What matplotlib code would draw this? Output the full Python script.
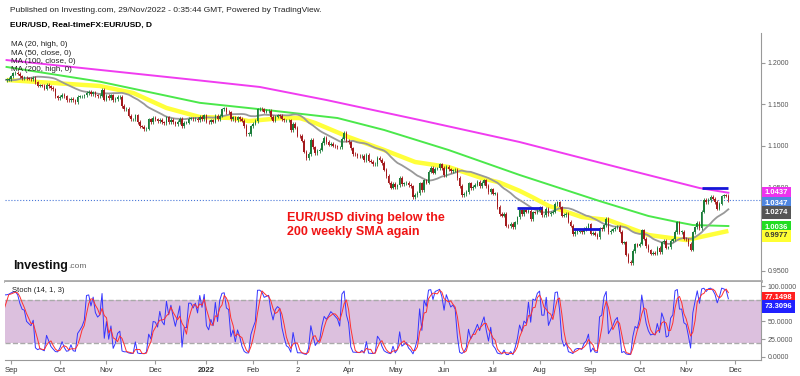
import numpy as np
import pandas as pd
import matplotlib.pyplot as plt

plt.rcParams['font.family'] = ['Liberation Sans', 'DejaVu Sans']

# EUR/USD daily closes, one list per month (weekdays only)
aug21 = [1.1870, 1.1868, 1.1835, 1.1833, 1.1760, 1.1735, 1.1720, 1.1740, 1.1730, 1.1795,
         1.1778, 1.1712, 1.1713, 1.1675, 1.1700, 1.1745, 1.1755, 1.1770, 1.1750, 1.1795,
         1.1797, 1.1808]
sep21 = [1.1840, 1.1875, 1.1880, 1.1870, 1.1840, 1.1820, 1.1825, 1.1813, 1.1810, 1.1805,
         1.1818, 1.1765, 1.1725, 1.1728, 1.1725, 1.1690, 1.1740, 1.1720, 1.1698, 1.1683,
         1.1600, 1.1580]
oct21 = [1.1595, 1.1620, 1.1597, 1.1555, 1.1553, 1.1572, 1.1552, 1.1530, 1.1593, 1.1597,
         1.1600, 1.1610, 1.1640, 1.1650, 1.1625, 1.1645, 1.1610, 1.1600, 1.1605, 1.1680,
         1.1560]
nov21 = [1.1605, 1.1580, 1.1610, 1.1555, 1.1567, 1.1590, 1.1595, 1.1480, 1.1445, 1.1445,
         1.1367, 1.1320, 1.1320, 1.1370, 1.1290, 1.1237, 1.1234, 1.1200, 1.1210, 1.1320,
         1.1290, 1.1340]
dec21 = [1.1320, 1.1300, 1.1315, 1.1285, 1.1275, 1.1345, 1.1290, 1.1315, 1.1285, 1.1260,
         1.1290, 1.1330, 1.1240, 1.1280, 1.1280, 1.1330, 1.1330, 1.1320, 1.1330, 1.1310,
         1.1350, 1.1325, 1.1370]
jan22 = [1.1295, 1.1285, 1.1310, 1.1295, 1.1360, 1.1325, 1.1365, 1.1440, 1.1455, 1.1410,
         1.1405, 1.1325, 1.1345, 1.1310, 1.1345, 1.1325, 1.1305, 1.1240, 1.1145, 1.1145,
         1.1235]
feb22 = [1.1270, 1.1300, 1.1440, 1.1450, 1.1440, 1.1415, 1.1420, 1.1425, 1.1350, 1.1305,
         1.1355, 1.1370, 1.1360, 1.1320, 1.1310, 1.1310, 1.1310, 1.1190, 1.1270, 1.1220]
mar22 = [1.1125, 1.1120, 1.1065, 1.0930, 1.0855, 1.0905, 1.1075, 1.0985, 1.0915, 1.0940,
         1.0955, 1.1035, 1.1095, 1.1050, 1.1015, 1.1030, 1.1005, 1.0995, 1.0985, 1.0985,
         1.1090, 1.1160, 1.1065]
apr22 = [1.1045, 1.0970, 1.0905, 1.0900, 1.0880, 1.0875, 1.0885, 1.0830, 1.0890, 1.0825,
         1.0810, 1.0780, 1.0785, 1.0855, 1.0835, 1.0795, 1.0715, 1.0640, 1.0560, 1.0500,
         1.0545]
may22 = [1.0505, 1.0525, 1.0620, 1.0540, 1.0550, 1.0560, 1.0530, 1.0515, 1.0380, 1.0410,
         1.0435, 1.0550, 1.0465, 1.0585, 1.0560, 1.0690, 1.0735, 1.0680, 1.0725, 1.0730,
         1.0780, 1.0735]
jun22 = [1.0650, 1.0750, 1.0720, 1.0695, 1.0705, 1.0715, 1.0615, 1.0520, 1.0410, 1.0420,
         1.0445, 1.0550, 1.0495, 1.0510, 1.0535, 1.0565, 1.0520, 1.0555, 1.0585, 1.0520,
         1.0445, 1.0480]
jul22 = [1.0425, 1.0425, 1.0265, 1.0180, 1.0160, 1.0185, 1.0040, 1.0035, 1.0060, 1.0020,
         1.0080, 1.0140, 1.0225, 1.0180, 1.0225, 1.0210, 1.0220, 1.0120, 1.0200, 1.0195,
         1.0220]
aug22 = [1.0260, 1.0165, 1.0165, 1.0245, 1.0180, 1.0195, 1.0210, 1.0300, 1.0320, 1.0260,
         1.0160, 1.0170, 1.0180, 1.0090, 1.0040, 0.9940, 0.9965, 0.9970, 0.9970, 0.9965,
         1.0000, 1.0015, 1.0055]
sep22 = [0.9945, 0.9955, 0.9930, 0.9900, 1.0010, 0.9995, 1.0045, 1.0120, 0.9965, 0.9980,
         0.9995, 1.0015, 1.0025, 0.9970, 0.9835, 0.9840, 0.9690, 0.9605, 0.9590, 0.9735,
         0.9815, 0.9800]
oct22 = [0.9825, 0.9985, 0.9885, 0.9795, 0.9745, 0.9705, 0.9710, 0.9705, 0.9775, 0.9720,
         0.9840, 0.9855, 0.9775, 0.9780, 0.9860, 0.9875, 0.9965, 1.0080, 0.9965, 0.9965,
         0.9885]
nov22 = [0.9875, 0.9820, 0.9750, 0.9960, 1.0020, 1.0075, 1.0010, 1.0210, 1.0355, 1.0325,
         1.0350, 1.0385, 1.0365, 1.0325, 1.0245, 1.0305, 1.0395, 1.0405, 1.0400, 1.0347]

# longer moving averages
ma50_dates = ['2021-08-30', '2021-10-27', '2021-11-17', '2021-12-08', '2021-12-29', '2022-01-19',
              '2022-01-28', '2022-02-18', '2022-03-02', '2022-03-11', '2022-04-01', '2022-04-25',
              '2022-05-13', '2022-06-03', '2022-06-24', '2022-07-06', '2022-07-19', '2022-07-27',
              '2022-08-05', '2022-08-26', '2022-09-13', '2022-10-07', '2022-11-01', '2022-11-28']
ma50_vals = [1.1795, 1.1723, 1.1639, 1.1458, 1.1349, 1.1337, 1.1300, 1.1337, 1.1337, 1.1277,
             1.1108, 1.0952, 1.0807, 1.0747, 1.0614, 1.0560, 1.0460, 1.0380, 1.0280, 1.0145,
             1.0108, 0.9928, 0.9867, 0.9977]
ma100_dates = ['2021-08-30', '2021-10-27', '2021-12-29', '2022-02-03', '2022-03-25', '2022-04-25',
               '2022-06-03', '2022-07-19', '2022-09-07', '2022-10-07', '2022-10-26', '2022-11-04',
               '2022-11-28']
ma100_vals = [1.1952, 1.1775, 1.1520, 1.1446, 1.1337, 1.1193, 1.0952, 1.0651, 1.0337, 1.0157,
              1.0084, 1.0048, 1.0036]
ma200_dates = ['2021-08-30', '2021-12-27', '2022-02-04', '2022-03-18', '2022-05-17', '2022-07-19',
               '2022-09-26', '2022-11-09', '2022-11-28']
ma200_vals = [1.2035, 1.1795, 1.1711, 1.1554, 1.1313, 1.1048, 1.0711, 1.0494, 1.0437]

# drawn resistance levels
res_levels = [1.0255, 1.0000, 1.0500]
res_from = ['2022-07-18', '2022-08-22', '2022-11-10']
res_to = ['2022-08-02', '2022-09-07', '2022-11-28']

# values in the right-hand tags
price_tags = [1.0437, 1.0347, 1.0274, 1.0036, 0.9977]
stoch_tags = [77.1498, 73.3096]

month_labels = ['Sep', 'Oct', 'Nov', 'Dec', '2022', 'Feb', '2', 'Apr', 'May', 'Jun',
                'Jul', 'Aug', 'Sep', 'Oct', 'Nov', 'Dec']

closes = np.array(aug21 + sep21 + oct21 + nov21 + dec21 + jan22 + feb22 + mar22 + apr22
                  + may22 + jun22 + jul22 + aug22 + sep22 + oct22 + nov22)
days = pd.bdate_range('2021-08-02', '2022-12-30')
n = len(closes)
start = days.get_loc(pd.Timestamp('2021-08-30'))


def pos(d):
    return days.get_indexer(pd.DatetimeIndex(np.atleast_1d(pd.to_datetime(d)))) - start


x = np.arange(n) - start
opens = np.r_[closes[0], closes[:-1]]
wick = 0.002
highs = np.maximum(opens, closes) + wick
lows = np.minimum(opens, closes) - wick

ma20 = pd.Series(highs).rolling(20).mean()
hh = pd.Series(highs).rolling(14).max()
ll = pd.Series(lows).rolling(14).min()
k = 100 * (closes - ll) / (hh - ll)
d = k.rolling(3).mean()

fig = plt.figure(figsize=(8, 3.76), dpi=100)
W, H = 800, 376
ax = fig.add_axes([5 / W, 1 - 281 / H, 756 / W, 248 / H])
ax2 = fig.add_axes([5 / W, 1 - 360 / H, 756 / W, 78 / H])
xl = (-0.7, 339.7)

# candles
up = closes >= opens
for m, col in [(up, '#1b7d3a'), (~up, '#a3191c')]:
    ax.vlines(x[m], lows[m], highs[m], color=col, lw=0.6, zorder=3)
    ax.bar(x[m], np.maximum(np.abs(closes - opens)[m], 0.0006), bottom=np.minimum(opens, closes)[m],
           width=0.7, color=col, zorder=3)

ax.plot(pos(ma200_dates), ma200_vals, color='#f03cf0', lw=1.4, zorder=2)
ax.plot(pos(ma100_dates), ma100_vals, color='#4be84b', lw=1.4, zorder=2)
ax.plot(pos(ma50_dates), ma50_vals, color='#ffff3a', lw=3.2, zorder=2, solid_capstyle='butt')
ax.plot(x, ma20, color='#999999', lw=1.3, zorder=2)
ax.axhline(closes[-1], color='#4a78d8', ls=':', lw=0.8, zorder=1)
for lv, a, b in zip(res_levels, res_from, res_to):
    ax.plot(np.r_[pos(a), pos(b)], [lv, lv], color='#1515d8', lw=2, zorder=4, solid_capstyle='butt')

ax.set_xlim(*xl)
ax.set_ylim(0.9374, 1.2361)
ax.set_xticks([])
for s in ['top', 'left']:
    ax.spines[s].set_visible(False)
ax.spines['right'].set_color('#999999')
ax.spines['bottom'].set_color('#aaaaaa')
ax.spines['bottom'].set_linewidth(2)
ax.yaxis.tick_right()
pticks = [0.95, 1.0, 1.05, 1.1, 1.15, 1.2]
ax.set_yticks(pticks)
# 1.0000 sits fully under the green tag
ax.set_yticklabels(['' if v == 1.0 else '%.4f' % v for v in pticks])
ax.tick_params(axis='y', length=3, color='#999999', labelsize=5, labelcolor='#555555', pad=2)

# right side tags
tag_cols = [('#ee33ee', 'white'), ('#4f86e0', 'white'), ('#555555', 'white'),
            ('#22dd22', 'white'), ('#ffff33', '#333333')]
tag_nudge = [0.0, -0.0035, -0.0075, -0.0012, -0.006]
trans = ax.get_yaxis_transform()
for v, (fc, tc), dy in zip(price_tags, tag_cols, tag_nudge):
    ax.text(1.005, v + dy, '%.4f' % v, transform=trans, fontsize=5.5, weight='bold', color=tc,
            va='center', ha='left', clip_on=False, zorder=6,
            bbox=dict(boxstyle='square,pad=0.35', fc=fc, ec='none'))

# stochastic
ax2.axhspan(20, 80, color='#dcc0de', lw=0, zorder=0)
ax2.axhline(20, color='#aaaaaa', ls='--', lw=1, zorder=1)
ax2.axhline(80, color='#aaaaaa', ls='--', lw=1, zorder=1)
ax2.plot(x, k, color='#3535ff', lw=0.7, zorder=2)
ax2.plot(x, d, color='#ff3030', lw=0.7, zorder=3)
ax2.set_xlim(*xl)
ax2.set_ylim(-4.3, 105.7)
for s in ['top', 'left']:
    ax2.spines[s].set_visible(False)
ax2.spines['right'].set_color('#999999')
ax2.spines['bottom'].set_color('#999999')
ax2.yaxis.tick_right()
sticks = [0, 25, 50, 75, 100]
ax2.set_yticks(sticks)
# 75 is hidden by the two tags
ax2.set_yticklabels(['' if v == 75 else '%.4f' % v for v in sticks])
ax2.tick_params(axis='y', length=3, color='#999999', labelsize=5, labelcolor='#555555', pad=2)
months = pd.date_range('2021-09-01', '2022-12-01', freq='BMS')
ax2.set_xticks(pos(months))
ax2.set_xticklabels(month_labels)
ax2.tick_params(axis='x', length=3, color='#999999', labelsize=5.5, labelcolor='#333333', pad=2)
for lab in ax2.get_xticklabels():
    if lab.get_text() == '2022':
        lab.set_weight('bold')
trans2 = ax2.get_yaxis_transform()
for v, fc, dy in zip(stoch_tags, ['#ff2020', '#2020ff'], [6, -2]):
    ax2.text(1.005, v + dy, '%.4f' % v, transform=trans2, fontsize=5.5, weight='bold', color='white',
             va='center', ha='left', clip_on=False, zorder=6,
             bbox=dict(boxstyle='square,pad=0.35', fc=fc, ec='none'))

# texts
fig.text(10 / W, 1 - 11 / H, 'Published on Investing.com, 29/Nov/2022 - 0:35:44 GMT, Powered by TradingView.',
         fontsize=6, va='center', color='#222222')
fig.text(10 / W, 1 - 25 / H, 'EUR/USD, Real-timeFX:EUR/USD, D', fontsize=6, weight='bold', va='center')
for i, t in enumerate(['MA (20, high, 0)', 'MA (50, close, 0)', 'MA (100, close, 0)', 'MA (200, high, 0)']):
    fig.text(11 / W, 1 - (45 + 8.3 * i) / H, t, fontsize=5.8, va='center', color='#222222', zorder=10)
fig.text(287 / W, 1 - 225 / H, 'EUR/USD diving below the\n200 weekly SMA again', fontsize=9,
         weight='bold', color='#f01414', va='center', ha='left', linespacing=1.3)
fig.text(13 / W, 1 - 266 / H, 'Investing', fontsize=9, weight='bold', va='center', color='#111111')
fig.text(68 / W, 1 - 267 / H, '.com', fontsize=6, va='center', color='#666666')
fig.text(12 / W, 1 - 291 / H, 'Stoch (14, 1, 3)', fontsize=5.5, va='center', color='#222222', zorder=10)

fig.savefig('out.png', dpi=100)
